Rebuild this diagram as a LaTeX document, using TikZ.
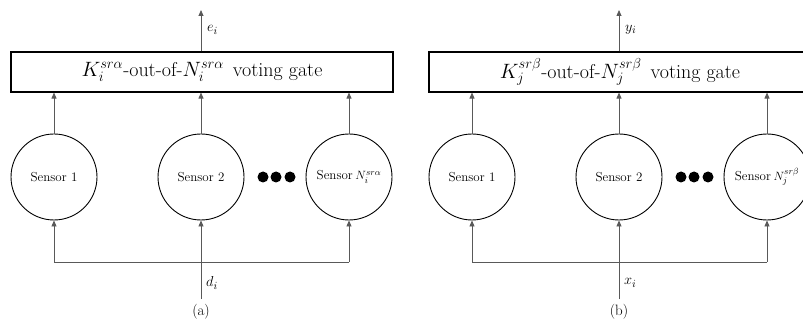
\documentclass[tikz,border=0pt]{standalone}
\usepackage{fontspec}
\usetikzlibrary{arrows.meta}
\tikzset{
  gate/.style={draw=black, line width=1.1pt, minimum width=382pt, minimum height=40pt, inner sep=0pt, font=\rmfamily\fontsize{20}{24}\selectfont},
  sensor/.style={circle, draw=black, line width=0.9pt, minimum size=86pt, inner sep=0pt, font=\rmfamily\fontsize{13}{16}\selectfont},
  bigdot/.style={circle, fill=black, minimum size=11pt, inner sep=0pt},
  conn/.style={draw=black!65, line width=0.8pt},
  arr/.style={conn, -{Triangle[length=6pt,width=5pt]}},
  lbl/.style={font=\rmfamily\fontsize{15}{17}\selectfont, inner sep=0pt},
}
\newcommand\votingpanel[7]{%
  \begin{scope}[xshift=#2pt]
    \node[gate] (#1gate) at (202,72) {$K_{#3}^{sr#4}$-out-of-$N_{#3}^{sr#4}$\hspace{0.45em}voting gate};
    \node[sensor] (#1s1) at (54,177) {Sensor 1};
    \node[sensor] (#1s2) at (201,177) {Sensor 2};
    \node[sensor] (#1sn) at (349,177) {Sensor\hspace{0.2em}$N_{#3}^{sr#4}$};
    \node[bigdot] (#1d1) at (263,177) {};
    \node[bigdot] (#1d2) at (276,177) {};
    \node[bigdot] (#1d3) at (290,177) {};
    \coordinate (#1out) at (201,10);
    \coordinate (#1in) at (201,299);
    \coordinate (#1bl) at (54,262);
    \coordinate (#1br) at (349,262);
    \draw[arr] (#1s2 |- #1gate.north) -- (#1out);
    \draw[arr] (#1s1.north) -- (#1s1.north |- #1gate.south);
    \draw[arr] (#1s2.north) -- (#1s2.north |- #1gate.south);
    \draw[arr] (#1sn.north) -- (#1sn.north |- #1gate.south);
    \draw[arr] (#1in) -- (#1s2.south);
    \draw[conn] (#1bl) -- (#1br);
    \draw[arr] (#1bl) -- (#1s1.south);
    \draw[arr] (#1br) -- (#1sn.south);
    \node[lbl, anchor=west] (#1outlbl) at (207,30) {$#5$};
    \node[lbl, anchor=west] (#1inlbl) at (206,283) {$#6$};
    \node[lbl] (#1cap) at (201,312) {(#7)};
  \end{scope}%
}
\begin{document}
\begin{tikzpicture}[x=1pt, y=-1pt]
  \useasboundingbox (0,0) rectangle (803,323);
  \votingpanel{a}{0}{i}{\alpha}{e_i}{d_i}{a}
  \votingpanel{b}{418}{j}{\beta}{y_i}{x_i}{b}
\end{tikzpicture}
\end{document}
